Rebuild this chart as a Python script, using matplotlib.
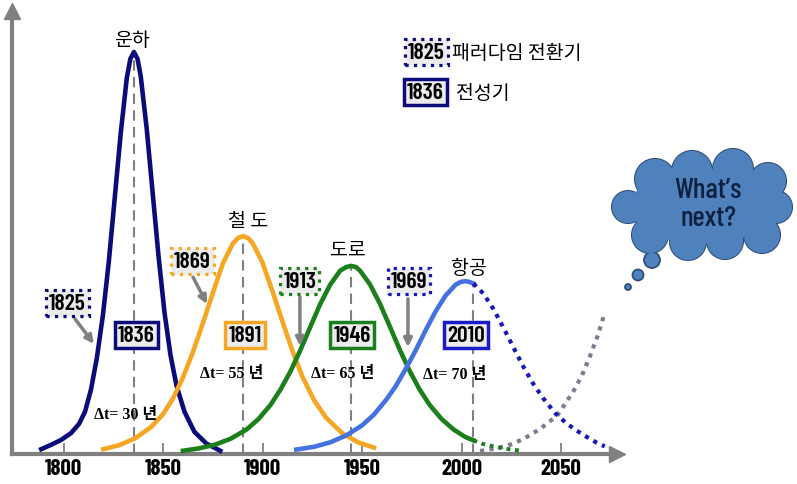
import matplotlib
matplotlib.use("Agg")
import matplotlib.pyplot as plt
import matplotlib.transforms as mtransforms
from matplotlib import font_manager
from matplotlib.patches import Circle, Ellipse

# pick a narrow sans like Arial Narrow if one is installed
installed = {f.name for f in font_manager.fontManager.ttflist}
NARROW = next((n for n in ["Liberation Sans Narrow", "Arial Narrow", "Barlow Condensed",
                           "Archivo Narrow"] if n in installed), "Liberation Sans")
KR = ["Noto Sans CJK KR", "DejaVu Sans"]
plt.rcParams["font.family"] = [NARROW, "Noto Sans CJK KR"]

# ---- data (year, relative level) ----
canal_year = [1788.8, 1793.8, 1798.8, 1803.8, 1807.8, 1810.8, 1813.8, 1816.8, 1819.8,
              1822.8, 1825.8, 1828.8, 1831.8, 1833.6, 1835.4, 1837.2, 1838.8, 1841.8,
              1844.8, 1847.8, 1850.8, 1853.8, 1856.8, 1860.8, 1865.8, 1871.8, 1878.8]
canal_val = [1.2, 2.3, 3.5, 5.2, 7.5, 10.5, 16, 24, 34.5,
             48, 64, 80, 93.5, 98.3, 100, 98.3, 94, 81,
             65, 49, 35, 24.5, 17, 10.5, 5.5, 2.6, 0.8]

rail_year = [1820, 1828, 1836, 1844, 1850, 1855, 1860, 1865, 1870, 1875, 1880, 1885,
             1887.6, 1890.2, 1892.8, 1895, 1900, 1905, 1910, 1915, 1920, 1926, 1932,
             1940, 1948, 1956]
rail_val = [1.2, 2.2, 3.9, 6.7, 9.9, 13.8, 19, 25.3, 32.5, 40, 47.3, 52.3,
            53.7, 54.2, 53.7, 52.5, 47.6, 40.5, 33, 25.7, 19.3, 13.3, 9,
            5.2, 2.9, 1.6]

road_year = [1860, 1868, 1876, 1884, 1892, 1898, 1904, 1909, 1914, 1919, 1924, 1929,
             1934, 1939, 1942, 1944.5, 1947, 1949, 1954, 1959, 1964, 1969, 1974, 1979,
             1984, 1990, 1996, 2002, 2006]
road_val = [0.8, 1.4, 2.3, 3.8, 6.1, 8.7, 12.2, 16, 20.5, 25.8, 31.6, 37.3,
            42.1, 45.6, 46.5, 46.8, 46.5, 45.6, 42.2, 37.4, 31.7, 25.9, 20.6, 16,
            12.2, 8.7, 6.1, 4.2, 3.4]
road_tail_year = [2006, 2010, 2015, 2020, 2025, 2030]
road_tail_val = [3.4, 2.6, 2.0, 1.5, 1.1, 0.8]

air_year = [1917, 1926, 1934, 1942, 1950, 1956, 1962, 1967, 1972, 1977, 1982, 1987,
            1992, 1997, 1999.5, 2002, 2004, 2006]
air_val = [1.1, 1.8, 2.9, 4.6, 7.1, 9.8, 13.4, 16.9, 21.2, 25.8, 30.8, 35.5,
           39.4, 42.1, 42.8, 43.0, 42.8, 42.4]
air_tail_year = [2006, 2011, 2016, 2021, 2026, 2031, 2036, 2041, 2047, 2053, 2061, 2068, 2072]
air_tail_val = [42.4, 39.9, 36.1, 31.5, 26.6, 21.8, 17.5, 13.9, 10.2, 7.5, 4.8, 2.8, 1.9]

next_year = [2009.3, 2016, 2022.9, 2031, 2039.4, 2048, 2056, 2060.5, 2064.6, 2068.5, 2072.1]
next_val = [0.75, 1.3, 2.0, 3.7, 6.2, 9.5, 15.4, 19.5, 24.4, 29.5, 35.3]

peak_year = [1835.4, 1890.2, 1944.5, 2006]
peak_val = [100, 54.2, 46.8, 42.4]
peak_label = ["1836", "1891", "1946", "2010"]
shift_label = ["1825", "1869", "1913", "1969"]
mode_name = ["운하", "철 도", "도로", "항공"]
delta_label = ["Δt= 30 년", "Δt= 55 년", "Δt= 65 년", "Δt= 70 년"]
xticks = [1800, 1850, 1900, 1950, 2000, 2050]

NAVY = "#0B0B7A"
ORANGE = "#F5A623"
GREEN = "#1B7F1B"
BLUE = "#4472E0"
DOTBLUE = "#1818B8"
GRAY = "#808080"
colors = [NAVY, ORANGE, GREEN, "#1A1AC8"]
shift_colors = [NAVY, ORANGE, GREEN, DOTBLUE]

fig = plt.figure(figsize=(7.97, 4.85), dpi=100)
ax = fig.add_axes([12 / 797, 30 / 485, 605 / 797, 443 / 485])
ax.set_xlim(1774.12, 2078.14)
ax.set_ylim(0, 110.2)

for s in ["top", "right"]:
    ax.spines[s].set_visible(False)
for s in ["left", "bottom"]:
    ax.spines[s].set_color(GRAY)
    ax.spines[s].set_linewidth(3)
ax.plot(1.0, 0, marker=">", ms=11, color=GRAY, transform=ax.transAxes, clip_on=False)
ax.plot(0, 1.0, marker="^", ms=11, color=GRAY, transform=ax.transAxes, clip_on=False)

ax.set_yticks([])
ax.set_xticks(xticks)
ax.set_xticklabels([str(t) for t in xticks], fontweight="bold", fontsize=16.5)
ax.tick_params(axis="x", direction="in", length=8, width=1.3, color=GRAY, pad=3)

# dashed lines at the peaks
ax.vlines(peak_year, 0, peak_val, colors=GRAY, linestyles=(0, (5, 3)), linewidth=1.5, zorder=1)

lw = 3.3
ax.plot(canal_year, canal_val, color=NAVY, lw=lw, zorder=3)
ax.plot(rail_year, rail_val, color=ORANGE, lw=lw, zorder=3)
ax.plot(road_year, road_val, color=GREEN, lw=lw, zorder=3)
ax.plot(road_tail_year, road_tail_val, color=GREEN, lw=2.8, ls=(0, (1, 1.2)), zorder=3)
ax.plot(air_year, air_val, color=BLUE, lw=lw, zorder=3)
ax.plot(air_tail_year, air_tail_val, color=DOTBLUE, lw=3.0, ls=(0, (1, 1.3)), zorder=3)
ax.plot(next_year, next_val, color="#7C7C90", lw=3.0, ls=(0, (1, 1.3)), zorder=2)

# names above peaks
name_pos = [(1834.4, 103), (1892.7, 58.0), (1943, 51.0), (2003.8, 46.5)]
for (x, y), name in zip(name_pos, mode_name):
    ax.text(x, y, name, ha="center", va="center", fontsize=14, family=KR, zorder=5)

box_kw = dict(ha="center", va="center", fontsize=17, fontweight=600)

# boxes at peak years
for x, lab, c in zip([1836.7, 1891.2, 1945, 2002.3], peak_label, colors):
    ax.text(x, 29.6, lab, zorder=6, **box_kw,
            bbox=dict(boxstyle="square,pad=0.13", fc="#ECECEC", ec=c, lw=2.5))

# paradigm shift boxes with arrows
shift_pos = [(1801.8, 37.6), (1864.6, 48.0), (1918.8, 43.0), (1973.6, 43.0)]
arrow_from = [(1805.8, 33.6), (1865.1, 44.0), (1918.8, 39.0), (1973.1, 38.6)]
arrow_to = [(1815.3, 27.4), (1872.1, 37.3), (1918.8, 26.9), (1973.1, 26.6)]
for (x, y), lab, c in zip(shift_pos, shift_label, shift_colors):
    ax.text(x, y, lab, zorder=7, **box_kw,
            bbox=dict(boxstyle="square,pad=0.13", fc="#ECECEC", ec=c, lw=2.3, ls=":"))
for a, b in zip(arrow_from, arrow_to):
    ax.annotate("", xy=b, xytext=a, zorder=6,
                arrowprops=dict(arrowstyle="-|>", color=GRAY, lw=2.5,
                                mutation_scale=12, shrinkA=0, shrinkB=0))

# delta t labels
for (x, y), lab in zip([(1831.4, 10.0), (1884.7, 20.1), (1940.5, 20.1), (1996.7, 19.9)], delta_label):
    ax.text(x, y, lab, ha="center", va="center", fontsize=11.5, fontweight="bold",
            family=["Liberation Serif", "Noto Sans CJK KR"], zorder=6)

# legend
ax.text(1982.2, 100.0, "1825", **box_kw,
        bbox=dict(boxstyle="square,pad=0.13", fc="#ECECEC", ec=NAVY, lw=2.3, ls=":"))
ax.text(1981.7, 90.0, "1836", **box_kw,
        bbox=dict(boxstyle="square,pad=0.13", fc="#ECECEC", ec=NAVY, lw=2.5))
ax.text(1995.2, 100.0, "패러다임 전환기", ha="left", va="center", fontsize=14, family=KR)
ax.text(1997.2, 90.0, "전성기", ha="left", va="center", fontsize=14, family=KR)

# thought cloud, in pixel coordinates from the top-left corner
T = mtransforms.Affine2D().scale(1, -1).translate(0, 485)
bumps = [(655, 180, 20), (692, 172, 20), (733, 170, 20), (768, 182, 18), (776, 208, 16),
         (762, 236, 18), (725, 242, 18), (688, 243, 18), (650, 236, 18), (628, 208, 16)]
CLOUD = "#4F81BD"
CEDGE = "#2F4F7A"
for x, y, r in bumps:
    fig.add_artist(Circle((x, y), r, transform=T, fc=CLOUD, ec=CEDGE, lw=1.5, zorder=10))
for x, y, r in bumps:
    fig.add_artist(Circle((x, y), r, transform=T, fc=CLOUD, ec="none", zorder=11))
fig.add_artist(Ellipse((703, 207), 145, 75, transform=T, fc=CLOUD, ec="none", zorder=11))
for x, y, r in [(652, 261, 8), (638, 276, 5.5), (628, 288, 3)]:
    fig.add_artist(Circle((x, y), r, transform=T, fc=CLOUD, ec=CEDGE, lw=1.3, zorder=10))
fig.text(708 / 797, 1 - 205 / 485, "What\u2019s\nnext?", ha="center", va="center",
         fontsize=21, fontweight=500, color="#10203F", linespacing=1.1, zorder=12)

fig.savefig("out.png", dpi=100)
